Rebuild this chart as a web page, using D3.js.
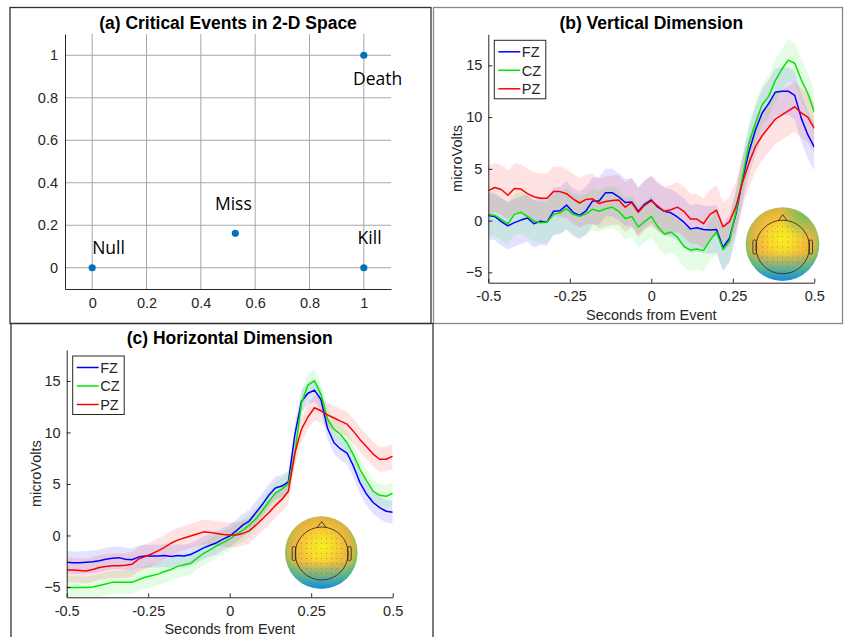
<!DOCTYPE html>
<html>
<head>
<meta charset="utf-8">
<script src="https://cdn.jsdelivr.net/npm/d3@7"></script>
<style>
  body { margin: 0; background: #fff; }
  svg { display: block; font-family: "Liberation Sans", Arial, sans-serif; }
</style>
</head>
<body>
<svg id="fig" width="844" height="637"></svg>
<script>
// ---- data: (a) critical events ----
var eventNames = ['Null', 'Miss', 'Kill', 'Death'];
var eventX = [0, 0.527, 1, 1];
var eventY = [0, 0.162, 0, 1];
// text anchors in data units (left / baseline), as placed in the figure
var eventLabelX = [0, 0.452, 0.977, 0.96];
var eventLabelY = [0.065, 0.274, 0.112, 0.858];
var spaceTicks = [0, 0.2, 0.4, 0.6, 0.8, 1];

// ---- data: (b) and (c) ERPs ----
var channels = ['FZ', 'CZ', 'PZ'];
var sampleIndex = d3.range(51);
var times = sampleIndex.map(function (k) { return -0.5 + k * 0.02; });
var timeTicks = [-0.5, -0.25, 0, 0.25, 0.5];
var timeTickLabels = ['-0.5', '-0.25', '0', '0.25', '0.5'];
var voltTicks = [-5, 0, 5, 10, 15];

var vertFZ = [0.5, 0.4, -0.1, -0.5, -0.2, 0.05, 0.25, -0.3, -0.05, -0.15,
    0.9, 0.95, 1.5, 0.8, 0.5, 0.95, 1.9, 1.9, 2.7, 2.7,
    2.3, 1.75, 1.8, 0.9, 1.6, 2.0, 1.3, 0.9, 0.75, 0.35,
    -0.15, -0.8, -0.7, -0.85, -0.9, -0.85, -2.6, -1.7, 0.7, 4.0,
    6.7, 8.8, 10.4, 11.3, 12.4, 12.5, 12.5, 12.1, 9.9, 8.3, 7.1];
var vertCZ = [0.6, 0.5, 0.1, -0.3, 0.6, 0.8, 0.4, -0.05, -0.2, -0.15,
    0.6, 0.75, 1.15, 0.6, 0.42, 0.65, 1.1, 0.9, 1.15, 1.3,
    0.9, 0.2, 0.4, -0.6, -0.1, 0.4, -0.6, -1.3, -1.1, -1.6,
    -2.5, -2.85, -2.75, -2.9, -1.9, -1.1, -2.8, -2.0, 0.9, 4.3,
    7.5, 9.5, 11.2, 12.0, 13.5, 14.6, 15.5, 15.2, 13.6, 12.3, 10.5];
var vertPZ = [2.9, 3.2, 3.0, 2.45, 3.1, 3.05, 2.6, 2.3, 2.15, 2.15,
    2.8, 2.8, 2.6, 2.1, 1.7, 2.05, 2.1, 1.65, 1.85, 1.95,
    2.0, 1.3, 1.75, 0.8, 1.5, 1.9, 1.4, 0.9, 1.05, 1.3,
    0.9, 0.16, 0.15, -0.3, 0.6, 1.0, -0.6, -0.1, 1.4, 3.7,
    5.6, 7.2, 8.2, 9.0, 9.8, 10.2, 10.6, 11.0, 10.4, 10.0, 8.9];
var vertHalfWidth = [2.3, 2.0, 2.4];

var horzFZ = [-2.6, -2.65, -2.65, -2.6, -2.55, -2.45, -2.3, -2.2, -2.15, -2.3,
    -2.35, -2.1, -2.0, -2.0, -2.0, -1.95, -2.05, -1.95, -2.0, -1.85,
    -1.55, -1.2, -0.95, -0.7, -0.35, -0.05, 0.45, 1.0, 1.4, 2.2,
    3.0, 3.9, 4.6, 4.8, 5.2, 9.8, 13.0, 13.8, 14.1, 13.2,
    10.4, 9.0, 8.4, 8.0, 6.7, 5.1, 4.0, 3.2, 2.7, 2.35, 2.25];
var horzCZ = [-5.05, -5.05, -5.05, -5.05, -5.0, -4.85, -4.7, -4.55, -4.55, -4.55,
    -4.55, -4.3, -4.05, -3.9, -3.75, -3.5, -3.3, -3.0, -2.85, -2.7,
    -2.2, -1.75, -1.4, -1.0, -0.7, -0.35, 0.1, 0.5, 1.0, 1.6,
    2.4, 3.3, 4.1, 4.5, 5.0, 8.0, 12.8, 14.6, 15.0, 13.7,
    11.3, 10.3, 9.8, 9.0, 7.8, 6.4, 5.3, 4.3, 3.9, 3.8, 4.1];
var horzPZ = [-3.35, -3.35, -3.4, -3.45, -3.3, -3.1, -3.0, -2.95, -2.95, -2.9,
    -2.8, -2.3, -2.05, -1.8, -1.5, -1.15, -0.75, -0.45, -0.25, -0.05,
    0.15, 0.35, 0.3, 0.2, 0.1, 0.05, 0.05, 0.2, 0.45, 1.0,
    1.6, 2.2, 2.9, 3.5, 4.3, 8.0, 10.3, 11.5, 12.4, 12.1,
    11.7, 11.4, 11.1, 10.8, 10.1, 9.3, 8.6, 7.9, 7.4, 7.4, 7.7];
var horzHalfWidth = [1.1, 1.1, 1.2];

var channelColors = ['#0000ff', '#00e600', '#ff0000'];

window.erp = window.erp || {};

erp.svg = d3.select('#fig');
erp.defs = erp.svg.append('defs');
erp.ink = '#262626';

erp.drawFrames = function () {
    var frames = [
        {x: 10, y: 7.5, w: 421, h: 316, c: '#333'},
        {x: 433.5, y: 7.5, w: 409, h: 316, c: '#888'},
        {x: 11, y: 323.5, w: 422, h: 330, c: '#333'}
    ];
    erp.svg.selectAll('rect.frame').data(frames).enter().append('rect')
        .attr('class', 'frame')
        .attr('x', function (d) { return d.x; })
        .attr('y', function (d) { return d.y; })
        .attr('width', function (d) { return d.w; })
        .attr('height', function (d) { return d.h; })
        .attr('fill', 'none')
        .attr('stroke', function (d) { return d.c; })
        .attr('stroke-width', 1.3);
};

erp.title = function (text, cx, baseline) {
    erp.svg.append('text')
        .attr('x', cx).attr('y', baseline)
        .attr('text-anchor', 'middle')
        .attr('font-size', 17.5).attr('font-weight', 'bold')
        .attr('fill', '#000')
        .text(text);
};

erp.drawEventSpace = function () {
    var box = {left: 65, right: 391, top: 34, bottom: 289};
    var x = d3.scaleLinear().domain([-0.1, 1.1]).range([box.left, box.right]);
    var y = d3.scaleLinear().domain([-0.1, 1.1]).range([box.bottom, box.top]);
    var g = erp.svg.append('g');

    g.selectAll('line.vgrid').data(spaceTicks).enter().append('line')
        .attr('x1', x).attr('x2', x)
        .attr('y1', box.top).attr('y2', box.bottom)
        .attr('stroke', '#a6a6a6').attr('stroke-width', 1);
    g.selectAll('line.hgrid').data(spaceTicks).enter().append('line')
        .attr('y1', y).attr('y2', y)
        .attr('x1', box.left).attr('x2', box.right)
        .attr('stroke', '#a6a6a6').attr('stroke-width', 1);

    var xAxis = d3.axisBottom(x).tickValues(spaceTicks).tickSize(0).tickPadding(9)
        .tickFormat(d3.format('~g'));
    var yAxis = d3.axisLeft(y).tickValues(spaceTicks).tickSize(0).tickPadding(7)
        .tickFormat(d3.format('~g'));
    styleAxis(g.append('g').attr('transform', 'translate(0,' + box.bottom + ')').call(xAxis));
    styleAxis(g.append('g').attr('transform', 'translate(' + box.left + ',0)').call(yAxis));

    g.selectAll('circle.event').data(eventNames).enter().append('circle')
        .attr('cx', function (d, i) { return x(eventX[i]); })
        .attr('cy', function (d, i) { return y(eventY[i]); })
        .attr('r', 3.6)
        .attr('fill', '#0072bd');

    g.selectAll('text.event').data(eventNames).enter().append('text')
        .attr('x', function (d, i) { return x(eventLabelX[i]); })
        .attr('y', function (d, i) { return y(eventLabelY[i]); })
        .attr('font-family', '"Open Sans", "Noto Sans", sans-serif')
        .attr('font-size', 17.5)
        .attr('fill', '#000')
        .text(function (d) { return d; });

    erp.title('(a) Critical Events in 2-D Space', 228, 28.5);
};

function styleAxis(sel) {
    sel.select('.domain').attr('stroke', erp.ink).attr('stroke-width', 1);
    sel.selectAll('.tick line').attr('stroke', erp.ink);
    sel.selectAll('.tick text')
        .attr('fill', erp.ink)
        .attr('font-size', 14.5)
        .attr('font-family', '"Liberation Sans", Arial, sans-serif');
    return sel;
}

erp.drawErpPanel = function (opts) {
    var box = opts.box;
    var x = d3.scaleLinear().domain([-0.5, 0.5]).range([box.left, box.right]);
    var y = d3.scaleLinear().domain([-6, 18]).range([box.bottom, box.top]);
    var g = erp.svg.append('g');

    var clipId = 'clip-' + opts.id;
    erp.defs.append('clipPath').attr('id', clipId).append('rect')
        .attr('x', box.left).attr('y', box.top)
        .attr('width', box.right - box.left).attr('height', box.bottom - box.top);

    var plot = g.append('g').attr('clip-path', 'url(#' + clipId + ')');

    var area = d3.area()
        .x(function (d) { return x(d.t); })
        .y0(function (d) { return y(d.v - d.hw); })
        .y1(function (d) { return y(d.v + d.hw); });
    var line = d3.line()
        .x(function (d) { return x(d.t); })
        .y(function (d) { return y(d.v); });

    var series = opts.series.map(function (values, c) {
        return values.map(function (v, k) {
            return {t: times[k], v: v, hw: opts.halfWidth[c]};
        });
    });

    plot.selectAll('path.band').data(series).enter().append('path')
        .attr('d', area)
        .attr('fill', function (d, i) { return channelColors[i]; })
        .attr('fill-opacity', 0.11)
        .attr('stroke', 'none');
    plot.selectAll('path.erp').data(series).enter().append('path')
        .attr('d', line)
        .attr('fill', 'none')
        .attr('stroke', function (d, i) { return channelColors[i]; })
        .attr('stroke-width', 1.5)
        .attr('stroke-linejoin', 'round');

    var xAxis = d3.axisBottom(x).tickValues(timeTicks).tickSizeInner(-4).tickSizeOuter(0)
        .tickPadding(8).tickFormat(function (d, i) { return timeTickLabels[i]; });
    var yAxis = d3.axisLeft(y).tickValues(voltTicks).tickSizeInner(-4).tickSizeOuter(0)
        .tickPadding(6).tickFormat(d3.format('d'));
    styleAxis(g.append('g').attr('transform', 'translate(0,' + box.bottom + ')').call(xAxis));
    styleAxis(g.append('g').attr('transform', 'translate(' + box.left + ',0)').call(yAxis));

    g.append('text')
        .attr('transform', 'translate(' + (box.left - 26) + ',' + ((box.top + box.bottom) / 2) + ') rotate(-90)')
        .attr('text-anchor', 'middle')
        .attr('font-size', 14.5)
        .attr('fill', erp.ink)
        .text('microVolts');
    g.append('text')
        .attr('x', (box.left + box.right) / 2)
        .attr('y', box.bottom + 37)
        .attr('text-anchor', 'middle')
        .attr('font-size', 14.5)
        .attr('fill', erp.ink)
        .text('Seconds from Event');

    drawLegend();
    erp.drawTopo(opts.topo);
    erp.title(opts.title, (box.left + box.right) / 2, opts.titleY);

    function drawLegend() {
        var lx = box.left + 6, ly = box.top + 6;
        var lg = g.append('g').attr('transform', 'translate(' + lx + ',' + ly + ')');
        lg.append('rect')
            .attr('width', 51.5).attr('height', 58.5)
            .attr('fill', '#fff')
            .attr('stroke', erp.ink).attr('stroke-width', 1);
        var rows = lg.selectAll('g.row').data(channels).enter().append('g')
            .attr('transform', function (d, i) { return 'translate(0,' + (11.5 + i * 18.5) + ')'; });
        rows.append('line')
            .attr('x1', 4).attr('x2', 26)
            .attr('stroke', function (d, i) { return channelColors[i]; })
            .attr('stroke-width', 1.5);
        rows.append('text')
            .attr('x', 27.5).attr('dy', '0.36em')
            .attr('font-size', 14.5)
            .attr('fill', erp.ink)
            .text(function (d) { return d; });
    }
};

erp.drawTopoDefs = function () {
    var warm = erp.defs.append('radialGradient').attr('id', 'topoWarm')
        .attr('cx', '50%').attr('cy', '44%').attr('r', '58%').attr('fx', '50%').attr('fy', '42%');
    [[0, '#f6f01c'], [0.28, '#f8d92e'], [0.5, '#f4bf3a'], [0.68, '#e4b43f'],
        [0.8, '#b9bb4c'], [0.9, '#74be64'], [1, '#3fb59a']].forEach(function (s) {
        warm.append('stop').attr('offset', s[0]).attr('stop-color', s[1]);
    });
    var cool = erp.defs.append('linearGradient').attr('id', 'topoCool')
        .attr('x1', 0).attr('y1', 0).attr('x2', 0).attr('y2', 1);
    [[0, '#2aa6c8', 0], [0.62, '#2aa6c8', 0], [0.8, '#2fb0b0', 0.55], [1, '#1a86e6', 1]].forEach(function (s) {
        cool.append('stop').attr('offset', s[0]).attr('stop-color', s[1]).attr('stop-opacity', s[2]);
    });
    var patch = erp.defs.append('radialGradient').attr('id', 'topoPatch')
        .attr('cx', '78%').attr('cy', '10%').attr('r', '32%');
    patch.append('stop').attr('offset', 0).attr('stop-color', '#6cc062').attr('stop-opacity', 0.9);
    patch.append('stop').attr('offset', 1).attr('stop-color', '#6cc062').attr('stop-opacity', 0);
};

erp.drawTopo = function (t) {
    var g = erp.svg.append('g');
    g.append('circle').attr('cx', t.cx).attr('cy', t.cy).attr('r', t.r).attr('fill', 'url(#topoWarm)');
    if (t.patch) {
        g.append('circle').attr('cx', t.cx).attr('cy', t.cy).attr('r', t.r).attr('fill', 'url(#topoPatch)');
    }
    g.append('circle').attr('cx', t.cx).attr('cy', t.cy).attr('r', t.r).attr('fill', 'url(#topoCool)');

    var hx = t.hx, hy = t.hy, hr = t.hr;
    var stroke = '#222';
    g.append('circle').attr('cx', hx).attr('cy', hy).attr('r', hr)
        .attr('fill', 'none').attr('stroke', stroke).attr('stroke-width', 0.8);
    g.append('path')
        .attr('d', 'M' + (hx - 4.5) + ',' + (hy - hr + 0.6) + ' L' + hx + ',' + (hy - hr - 5.5) +
            ' L' + (hx + 4.5) + ',' + (hy - hr + 0.6))
        .attr('fill', 'none').attr('stroke', stroke).attr('stroke-width', 0.8);
    [-1, 1].forEach(function (side) {
        var ex = side < 0 ? hx - hr - 3 : hx + hr - 0.5;
        g.append('rect')
            .attr('x', ex).attr('y', hy - 7).attr('width', 3.5).attr('height', 14).attr('rx', 1.5)
            .attr('fill', 'none').attr('stroke', stroke).attr('stroke-width', 0.8);
    });
    var step = hr * 0.19;
    var dots = [];
    d3.range(-5, 6).forEach(function (i) {
        d3.range(-5, 6).forEach(function (j) {
            if (Math.sqrt(i * i + j * j) * step < hr * 0.86) dots.push([hx + i * step, hy + j * step]);
        });
    });
    g.selectAll('circle.dot').data(dots).enter().append('circle')
        .attr('cx', function (d) { return d[0]; })
        .attr('cy', function (d) { return d[1]; })
        .attr('r', 0.45)
        .attr('fill', '#333').attr('fill-opacity', 0.7);
};

erp.drawFrames();
erp.drawTopoDefs();
erp.drawEventSpace();

erp.drawErpPanel({
    id: 'vert',
    title: '(b) Vertical Dimension',
    titleY: 28.5,
    box: {left: 488.3, right: 814.3, top: 34.3, bottom: 282.7},
    series: [vertFZ, vertCZ, vertPZ],
    halfWidth: vertHalfWidth,
    topo: {cx: 782.5, cy: 244, r: 36.8, hx: 782.7, hy: 247, hr: 26.8, patch: true}
});

erp.drawErpPanel({
    id: 'horz',
    title: '(c) Horizontal Dimension',
    titleY: 343.5,
    box: {left: 66.7, right: 392.7, top: 350, bottom: 597.3},
    series: [horzFZ, horzCZ, horzPZ],
    halfWidth: horzHalfWidth,
    topo: {cx: 321.3, cy: 552.5, r: 36.3, hx: 321.7, hy: 553.5, hr: 26.5, patch: false}
});
</script>
</body>
</html>
